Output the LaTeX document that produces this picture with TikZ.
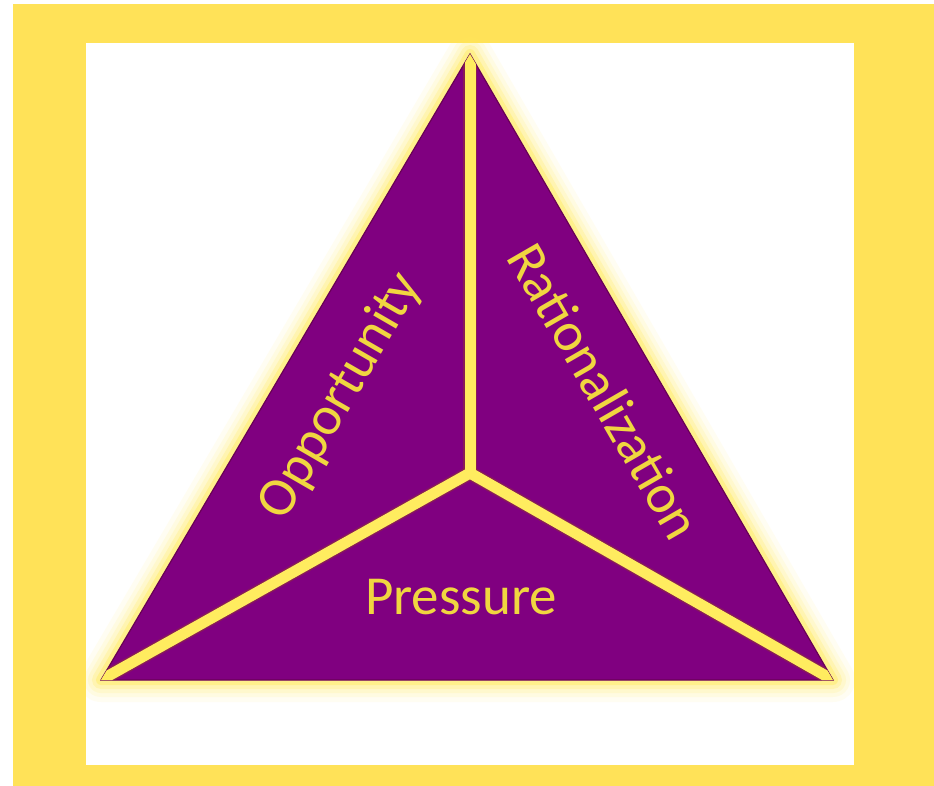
\documentclass[tikz,border=0pt]{standalone}
\usepackage{fontspec}
\setmainfont{Carlito}
\definecolor{framey}{RGB}{255,226,88}
\definecolor{tripurple}{RGB}{128,0,128}
\definecolor{edgepurple}{RGB}{105,0,85}
\definecolor{rimred}{RGB}{140,40,70}
\definecolor{glowy}{RGB}{255,236,95}
\definecolor{labely}{RGB}{240,214,64}
\tikzset{
  glowline/.style={glowy, line join=round},
  divider/.style={glowy, line width=11pt, line cap=round},
  dividerrim/.style={rimred, line width=14pt, line cap=round, opacity=0.7},
  label/.style={text=labely, font=\fontsize{55}{60}\selectfont, inner sep=0pt}
}
\begin{document}
\begin{tikzpicture}[x=1pt, y=-1pt]
  \useasboundingbox (0,0) rectangle (934,786);
  % frame
  \fill[white] (0,0) rectangle (934,786);
  \fill[framey] (13,4) rectangle (934,786);
  \fill[white] (86,43) rectangle (854,765);

  % corner points of the triangle and its centre
  \coordinate (A) at (470,54);
  \coordinate (B) at (101,680);
  \coordinate (C) at (833,680);
  \coordinate (O) at (470,473);

  % soft yellow halo round the triangle
  \foreach \w/\op in {44/0.08, 34/0.11, 26/0.15, 18/0.25, 10/0.45} {
    \draw[glowline, line width=\w pt, opacity=\op] (A) -- (B) -- (C) -- cycle;
  }

  % triangle body
  \fill[tripurple] (A) -- (B) -- (C) -- cycle;
  \draw[edgepurple, line width=1.2pt, line join=miter] (A) -- (B) -- (C) -- cycle;

  % three dividers meeting in the centre
  \begin{scope}
    \clip (A) -- (B) -- (C) -- cycle;
    \draw[dividerrim] (O) -- (A);
    \draw[dividerrim] (O) -- (B);
    \draw[dividerrim] (O) -- (C);
    \draw[divider] (O) -- (A);
    \draw[divider] (O) -- (B);
    \draw[divider] (O) -- (C);
  \end{scope}

  % labels
  \node[label, rotate=60] (opp) at (341,396) {Opportunity};
  \node[label, rotate=-60] (rat) at (605,391) {Rationalization};
  \node[label] (pre) at (461,597) {Pressure};
\end{tikzpicture}
\end{document}
